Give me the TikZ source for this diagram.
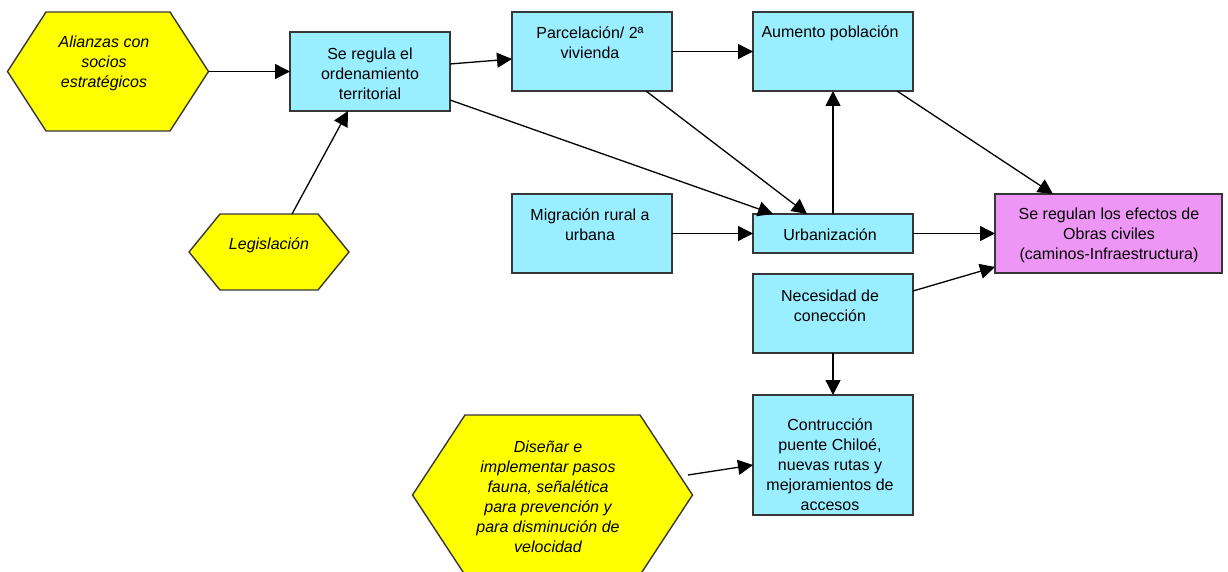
\documentclass[tikz,border=0pt]{standalone}
\usepackage{fontspec}
\setmainfont{Liberation Sans}
\usetikzlibrary{arrows.meta,backgrounds}
\definecolor{boxcyan}{RGB}{153,238,255}
\definecolor{boxpink}{RGB}{238,150,245}
\definecolor{hexyellow}{RGB}{255,255,0}
\definecolor{edge}{RGB}{55,55,55}
\tikzset{
  box/.style={draw=edge,line width=1.4pt,fill=boxcyan,inner sep=0pt,outer sep=0pt},
  pinkbox/.style={box,fill=boxpink},
  hexcore/.style={inner sep=0pt,outer sep=0pt},
  hexline/.style={draw=edge,line width=1.4pt,fill=hexyellow,line join=miter},
  txt/.style={align=center,inner sep=0pt,font=\fontsize{16}{20}\selectfont},
  itxt/.style={txt,font=\fontsize{16}{20}\selectfont\itshape},
  conn/.style={line width=1.3pt,-{Triangle[length=15pt,width=15pt]}}
}
% hexagon drawn around an invisible core node, tips pushed out by #2
\newcommand\hexagonaround[2]{%
  \begin{pgfonlayer}{background}
  \path[hexline] (#1.north west) -- (#1.north east) -- ([xshift=#2]#1.east)
    -- (#1.south east) -- (#1.south west) -- ([xshift=-#2]#1.west) -- cycle;
  \end{pgfonlayer}}
\begin{document}
\begin{tikzpicture}[x=1pt,y=-1pt]
\useasboundingbox (0,0) rectangle (1228,572);

% rectangular boxes
\node[box,minimum width=160,minimum height=79] (reg) at (370,71.5) {};
\node[box,minimum width=160,minimum height=79] (parc) at (592,51.5) {};
\node[box,minimum width=160,minimum height=79] (aum) at (833,51.5) {};
\node[box,minimum width=160,minimum height=79] (mig) at (592,233.5) {};
\node[box,minimum width=160,minimum height=39] (urb) at (833,233.5) {};
\node[box,minimum width=160,minimum height=79] (nec) at (833,313.5) {};
\node[box,minimum width=160,minimum height=120] (con) at (833,455) {};
\node[pinkbox,minimum width=227,minimum height=79] (efe) at (1108.5,233.5) {};

\node[txt] (reg-t) at (370,74) {Se regula el\\ordenamiento\\territorial};
\node[txt] (parc-t) at (590,43) {Parcelación/ 2ª\\vivienda};
\node[txt] (aum-t) at (830,33) {Aumento población};
\node[txt] (mig-t) at (590,225) {Migración rural a\\urbana};
\node[txt] (urb-t) at (830,235) {Urbanización};
\node[txt] (efe-t) at (1109,235) {Se regulan los efectos de\\Obras civiles\\(caminos-Infraestructura)};
\node[txt] (nec-t) at (830,306) {Necesidad de\\conección};
\node[txt] (con-t) at (830,465) {Contrucción\\puente Chiloé,\\nuevas rutas y\\mejoramientos de\\accesos};

% hexagons
\node[hexcore,minimum width=124,minimum height=119] (ali) at (108,71.5) {};
\hexagonaround{ali}{38.5}
\node[itxt] (ali-t) at (104,63) {Alianzas con\\socios\\estratégicos};

\node[hexcore,minimum width=98,minimum height=76] (leg) at (269,252) {};
\hexagonaround{leg}{31}
\node[itxt] (leg-t) at (269,245) {Legislación};

\node[hexcore,minimum width=175,minimum height=160] (dis) at (552.5,495) {};
\hexagonaround{dis}{52.5}
\node[itxt] (dis-t) at (548,497) {Diseñar e\\implementar pasos\\fauna, señalética\\para prevención y\\para disminución de\\velocidad};

% connectors
\draw[conn] ([xshift=38.5]ali.east) -- (reg.west);
\draw[conn] ([xshift=23]leg.north) -- ([xshift=-22]reg.south);
\draw[conn] ([yshift=7.5]reg.east) -- ([yshift=-7.5]parc.west);
\draw[conn] (parc.east) -- (aum.west);
\draw[conn] ([yshift=-28.5]reg.east) -- ([xshift=-60]urb.north);
\draw[conn] ([xshift=54]parc.south) -- ([xshift=-26]urb.north);
\draw[conn] (urb.north) -- (aum.south);
\draw[conn] (mig.east) -- (urb.west);
\draw[conn] ([xshift=64]aum.south) -- ([xshift=-55.5]efe.north);
\draw[conn] (urb.east) -- (efe.west);
\draw[conn] ([yshift=22.5]nec.east) -- ([yshift=-33.5]efe.west);
\draw[conn] (nec.south) -- (con.north);
\draw[conn] ([xshift=135.5,yshift=20]dis.center) -- ([yshift=-10]con.west);
\end{tikzpicture}
\end{document}
